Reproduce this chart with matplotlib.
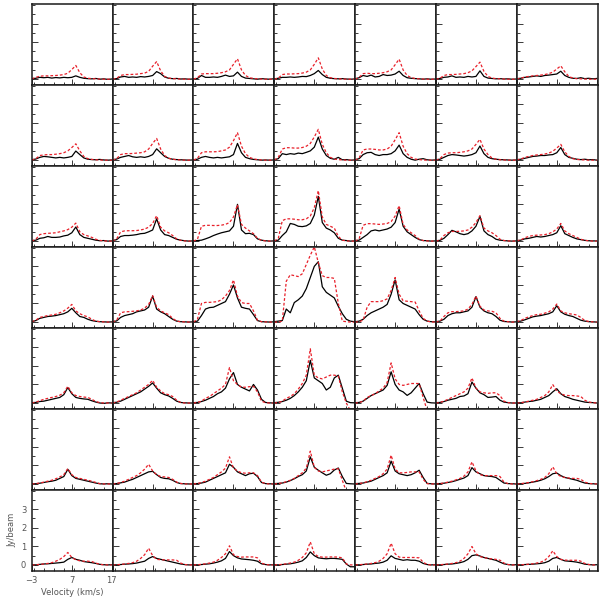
import matplotlib
matplotlib.use("Agg")
import matplotlib.pyplot as plt
from matplotlib.ticker import MultipleLocator

# velocity channels (km/s)
velocity = list(range(-3, 18))

# model spectra (red dashed), one list of 7 panels per row, top row first
model_row1 = [
    [0.02, 0.1, 0.16, 0.18, 0.18, 0.19, 0.2, 0.22, 0.25, 0.32, 0.52, 0.74, 0.35, 0.12, 0.05, 0.03, 0.02, 0.01, 0.0, 0.0, 0.0],
    [0.0, 0.05, 0.2, 0.25, 0.25, 0.26, 0.27, 0.3, 0.33, 0.42, 0.7, 0.95, 0.45, 0.15, 0.06, 0.03, 0.02, 0.01, 0.0, 0.0, 0.0],
    [0.0, 0.08, 0.28, 0.3, 0.3, 0.3, 0.32, 0.35, 0.4, 0.5, 0.8, 1.1, 0.5, 0.2, 0.08, 0.04, 0.02, 0.01, 0.0, 0.0, 0.0],
    [0.0, 0.06, 0.25, 0.28, 0.28, 0.29, 0.3, 0.33, 0.38, 0.5, 0.8, 1.15, 0.55, 0.2, 0.08, 0.04, 0.02, 0.01, 0.0, 0.0, 0.0],
    [0.0, 0.1, 0.3, 0.32, 0.3, 0.3, 0.32, 0.35, 0.4, 0.5, 0.78, 1.08, 0.5, 0.2, 0.08, 0.04, 0.02, 0.01, 0.0, 0.0, 0.0],
    [0.0, 0.05, 0.2, 0.25, 0.25, 0.26, 0.28, 0.3, 0.35, 0.45, 0.68, 0.92, 0.42, 0.15, 0.06, 0.03, 0.02, 0.01, 0.0, 0.0, 0.0],
    [0.02, 0.05, 0.12, 0.15, 0.18, 0.2, 0.22, 0.25, 0.3, 0.38, 0.55, 0.72, 0.4, 0.15, 0.06, 0.03, 0.02, 0.01, 0.0, 0.0, 0.0],
]
model_row2 = [
    [0.0, 0.08, 0.25, 0.28, 0.3, 0.3, 0.32, 0.35, 0.4, 0.5, 0.68, 0.88, 0.5, 0.2, 0.08, 0.04, 0.02, 0.01, 0.0, 0.0, 0.0],
    [0.0, 0.08, 0.3, 0.35, 0.35, 0.36, 0.38, 0.4, 0.45, 0.6, 0.9, 1.17, 0.6, 0.25, 0.1, 0.05, 0.02, 0.01, 0.0, 0.0, 0.0],
    [0.0, 0.1, 0.4, 0.45, 0.45, 0.45, 0.46, 0.5, 0.55, 0.7, 1.05, 1.48, 0.75, 0.35, 0.15, 0.07, 0.03, 0.01, 0.0, 0.0, 0.0],
    [0.0, 0.15, 0.6, 0.67, 0.67, 0.65, 0.65, 0.68, 0.75, 0.9, 1.25, 1.66, 0.85, 0.4, 0.15, 0.06, 0.03, 0.01, 0.0, 0.0, 0.0],
    [0.0, 0.12, 0.55, 0.6, 0.6, 0.58, 0.55, 0.55, 0.6, 0.75, 1.1, 1.48, 0.75, 0.35, 0.15, 0.06, 0.03, 0.01, 0.0, 0.0, 0.0],
    [0.0, 0.08, 0.3, 0.38, 0.4, 0.4, 0.42, 0.45, 0.5, 0.6, 0.85, 1.12, 0.6, 0.3, 0.12, 0.05, 0.02, 0.01, 0.0, 0.0, 0.0],
    [0.02, 0.06, 0.15, 0.2, 0.25, 0.28, 0.3, 0.33, 0.38, 0.48, 0.65, 0.85, 0.45, 0.2, 0.08, 0.04, 0.02, 0.01, 0.0, 0.0, 0.0],
]
model_row3 = [
    [0.0, 0.1, 0.35, 0.4, 0.42, 0.43, 0.45, 0.5, 0.55, 0.62, 0.75, 0.97, 0.5, 0.35, 0.28, 0.2, 0.1, 0.04, 0.01, 0.0, 0.0],
    [0.0, 0.12, 0.5, 0.55, 0.56, 0.56, 0.57, 0.6, 0.65, 0.75, 0.95, 1.37, 0.75, 0.55, 0.45, 0.3, 0.12, 0.04, 0.01, 0.0, 0.0],
    [0.0, 0.1, 0.8, 0.85, 0.85, 0.84, 0.84, 0.86, 0.9, 1.0, 1.3, 1.96, 0.9, 0.7, 0.55, 0.4, 0.15, 0.04, 0.01, 0.0, 0.0],
    [0.0, 0.15, 1.1, 1.2, 1.2, 1.18, 1.15, 1.15, 1.2, 1.35, 1.8, 2.72, 1.3, 0.9, 0.8, 0.7, 0.25, 0.05, 0.01, 0.0, 0.0],
    [0.0, 0.12, 0.85, 0.94, 0.94, 0.92, 0.9, 0.92, 0.95, 1.05, 1.35, 1.91, 0.9, 0.6, 0.45, 0.3, 0.1, 0.03, 0.01, 0.0, 0.0],
    [0.0, 0.05, 0.3, 0.45, 0.52, 0.52, 0.53, 0.55, 0.6, 0.75, 1.0, 1.37, 0.7, 0.55, 0.45, 0.3, 0.1, 0.03, 0.01, 0.0, 0.0],
    [0.02, 0.06, 0.18, 0.25, 0.3, 0.32, 0.33, 0.35, 0.4, 0.5, 0.65, 0.95, 0.55, 0.4, 0.3, 0.2, 0.1, 0.04, 0.02, 0.0, 0.0],
]
model_row4 = [
    [0.02, 0.1, 0.25, 0.3, 0.35, 0.38, 0.42, 0.5, 0.6, 0.75, 0.95, 0.6, 0.45, 0.35, 0.28, 0.15, 0.05, 0.02, 0.01, 0.0, 0.0],
    [0.0, 0.1, 0.5, 0.55, 0.56, 0.58, 0.6, 0.65, 0.75, 0.95, 1.42, 0.8, 0.6, 0.5, 0.4, 0.2, 0.05, 0.02, 0.01, 0.0, 0.0],
    [0.0, 0.15, 1.0, 1.06, 1.06, 1.08, 1.1, 1.2, 1.4, 1.7, 2.27, 1.4, 1.05, 1.0, 1.0, 0.6, 0.1, 0.02, 0.01, 0.0, 0.0],
    [0.0, 0.0, 0.05, 2.2, 2.55, 2.5, 2.45, 2.6, 3.1, 3.6, 4.05, 3.2, 2.5, 2.4, 2.4, 2.35, 1.0, 0.05, 0.02, 0.0, 0.0],
    [0.0, 0.02, 0.1, 0.8, 1.1, 1.1, 1.1, 1.15, 1.25, 1.7, 2.4, 1.5, 1.15, 1.12, 1.1, 1.08, 0.6, 0.2, 0.05, 0.01, 0.0],
    [0.0, 0.05, 0.3, 0.5, 0.56, 0.56, 0.58, 0.6, 0.7, 0.95, 1.4, 0.85, 0.65, 0.6, 0.58, 0.5, 0.2, 0.05, 0.02, 0.0, 0.0],
    [0.02, 0.08, 0.2, 0.28, 0.35, 0.4, 0.42, 0.48, 0.55, 0.7, 0.97, 0.6, 0.5, 0.45, 0.42, 0.38, 0.25, 0.08, 0.03, 0.01, 0.0],
]
model_row5 = [
    [0.0, 0.05, 0.12, 0.2, 0.25, 0.3, 0.35, 0.42, 0.55, 0.9, 0.55, 0.4, 0.35, 0.32, 0.3, 0.2, 0.08, 0.02, 0.0, 0.0, 0.0],
    [0.0, 0.05, 0.15, 0.25, 0.35, 0.45, 0.55, 0.7, 0.85, 1.0, 1.22, 0.85, 0.65, 0.5, 0.45, 0.35, 0.15, 0.03, 0.0, 0.0, 0.0],
    [0.0, 0.03, 0.1, 0.25, 0.35, 0.5, 0.65, 0.8, 1.0, 1.91, 1.2, 1.0, 0.85, 0.85, 0.88, 0.9, 0.6, 0.1, 0.02, 0.0, 0.0],
    [0.0, 0.02, 0.1, 0.25, 0.35, 0.5, 0.75, 1.05, 1.5, 2.92, 1.5, 1.35, 1.3, 1.4, 1.5, 1.5, 1.45, 0.6, 0.0, -0.4, -0.6],
    [0.0, 0.02, 0.1, 0.3, 0.4, 0.5, 0.65, 0.8, 1.1, 2.16, 1.3, 1.0, 0.95, 1.0, 1.05, 1.05, 1.05, 0.3, -0.4, -0.5, -0.5],
    [0.0, 0.03, 0.1, 0.2, 0.3, 0.4, 0.5, 0.6, 0.8, 1.35, 0.8, 0.6, 0.55, 0.52, 0.55, 0.55, 0.4, 0.1, 0.02, 0.0, 0.0],
    [0.0, 0.02, 0.05, 0.1, 0.15, 0.2, 0.3, 0.4, 0.6, 0.99, 0.65, 0.5, 0.42, 0.4, 0.4, 0.38, 0.35, 0.15, 0.05, 0.02, 0.0],
]
model_row6 = [
    [0.0, 0.02, 0.05, 0.1, 0.15, 0.2, 0.28, 0.38, 0.5, 0.83, 0.5, 0.35, 0.3, 0.25, 0.2, 0.15, 0.08, 0.02, 0.0, 0.0, 0.0],
    [0.0, 0.02, 0.08, 0.15, 0.25, 0.35, 0.45, 0.6, 0.8, 1.06, 0.7, 0.5, 0.4, 0.38, 0.35, 0.25, 0.1, 0.03, 0.0, 0.0, 0.0],
    [0.0, 0.02, 0.08, 0.15, 0.25, 0.35, 0.5, 0.65, 0.85, 1.46, 0.85, 0.7, 0.6, 0.58, 0.6, 0.6, 0.45, 0.1, 0.02, 0.0, 0.0],
    [0.0, 0.02, 0.06, 0.12, 0.2, 0.3, 0.45, 0.6, 0.85, 1.77, 0.9, 0.7, 0.65, 0.7, 0.75, 0.8, 0.82, 0.2, -0.4, -0.5, -0.5],
    [0.0, 0.02, 0.06, 0.12, 0.2, 0.3, 0.4, 0.55, 0.8, 1.55, 0.8, 0.6, 0.6, 0.62, 0.65, 0.65, 0.65, 0.25, 0.02, 0.0, 0.0],
    [0.0, 0.02, 0.05, 0.1, 0.15, 0.22, 0.3, 0.42, 0.65, 1.19, 0.7, 0.5, 0.45, 0.45, 0.45, 0.45, 0.4, 0.1, 0.02, 0.0, 0.0],
    [0.0, 0.02, 0.04, 0.08, 0.12, 0.18, 0.25, 0.35, 0.55, 0.92, 0.55, 0.4, 0.35, 0.32, 0.3, 0.3, 0.25, 0.1, 0.03, 0.01, 0.0],
]
model_row7 = [
    [0.0, 0.01, 0.03, 0.05, 0.08, 0.12, 0.2, 0.3, 0.45, 0.67, 0.4, 0.28, 0.22, 0.2, 0.2, 0.18, 0.1, 0.03, 0.01, 0.0, 0.0],
    [0.0, 0.01, 0.03, 0.05, 0.08, 0.12, 0.2, 0.35, 0.55, 0.9, 0.5, 0.3, 0.28, 0.27, 0.27, 0.27, 0.25, 0.1, 0.02, 0.0, 0.0],
    [0.0, 0.01, 0.03, 0.06, 0.1, 0.15, 0.25, 0.4, 0.6, 1.03, 0.55, 0.45, 0.42, 0.43, 0.43, 0.43, 0.38, 0.1, 0.02, 0.0, 0.0],
    [0.0, 0.01, 0.03, 0.06, 0.1, 0.15, 0.25, 0.4, 0.65, 1.24, 0.6, 0.45, 0.42, 0.42, 0.43, 0.43, 0.42, 0.38, 0.05, 0.0, 0.0],
    [0.0, 0.01, 0.03, 0.05, 0.08, 0.12, 0.2, 0.35, 0.6, 1.17, 0.6, 0.42, 0.4, 0.4, 0.4, 0.4, 0.38, 0.15, 0.02, 0.0, 0.0],
    [0.0, 0.01, 0.03, 0.05, 0.08, 0.12, 0.2, 0.35, 0.6, 0.99, 0.6, 0.45, 0.4, 0.35, 0.32, 0.3, 0.25, 0.1, 0.02, 0.0, 0.0],
    [0.0, 0.01, 0.02, 0.04, 0.06, 0.1, 0.15, 0.25, 0.45, 0.76, 0.45, 0.3, 0.26, 0.25, 0.25, 0.25, 0.2, 0.08, 0.02, 0.0, 0.0],
]

# observed spectra (black)
obs_row1 = [
    [0.02, 0.05, 0.1, 0.08, 0.1, 0.06, 0.09, 0.07, 0.1, 0.08, 0.1, 0.18, 0.1, 0.05, 0.03, 0.02, 0.04, 0.0, 0.02, -0.01, 0.01],
    [0.02, 0.03, 0.12, 0.15, 0.1, 0.12, 0.1, 0.14, 0.12, 0.15, 0.2, 0.41, 0.3, 0.12, 0.05, 0.03, 0.04, 0.01, 0.02, 0.0, 0.01],
    [0.02, 0.04, 0.2, 0.1, 0.1, 0.12, 0.1, 0.15, 0.22, 0.15, 0.18, 0.38, 0.15, 0.06, 0.04, 0.02, 0.0, 0.03, 0.01, 0.0, 0.02],
    [0.02, 0.05, 0.1, 0.1, 0.12, 0.1, 0.12, 0.15, 0.14, 0.2, 0.3, 0.47, 0.25, 0.1, 0.05, 0.03, 0.02, 0.03, 0.01, 0.0, 0.01],
    [0.02, 0.08, 0.2, 0.15, 0.22, 0.12, 0.15, 0.25, 0.2, 0.22, 0.28, 0.43, 0.2, 0.08, 0.05, 0.03, 0.02, 0.0, 0.02, 0.0, 0.01],
    [0.02, 0.04, 0.1, 0.12, 0.18, 0.1, 0.12, 0.1, 0.15, 0.12, 0.15, 0.45, 0.15, 0.06, 0.04, 0.02, 0.03, 0.01, 0.02, 0.0, 0.01],
    [0.03, 0.05, 0.1, 0.12, 0.15, 0.18, 0.15, 0.2, 0.22, 0.25, 0.28, 0.43, 0.2, 0.1, 0.05, 0.04, 0.08, 0.03, 0.05, 0.02, 0.04],
]
obs_row2 = [
    [0.02, 0.06, 0.15, 0.2, 0.18, 0.15, 0.12, 0.15, 0.12, 0.15, 0.2, 0.49, 0.3, 0.12, 0.05, 0.03, 0.02, 0.04, 0.01, 0.0, 0.01],
    [0.02, 0.06, 0.15, 0.2, 0.25, 0.18, 0.15, 0.18, 0.15, 0.2, 0.3, 0.61, 0.4, 0.2, 0.1, 0.05, 0.03, 0.02, 0.01, 0.0, 0.01],
    [0.02, 0.05, 0.15, 0.2, 0.15, 0.12, 0.15, 0.12, 0.15, 0.18, 0.3, 0.9, 0.4, 0.15, 0.08, 0.04, 0.02, 0.0, 0.01, 0.0, 0.01],
    [0.02, 0.08, 0.35, 0.3, 0.35, 0.32, 0.38, 0.35, 0.42, 0.5, 0.7, 1.24, 0.6, 0.25, 0.1, 0.05, 0.15, 0.02, 0.03, 0.0, 0.01],
    [0.02, 0.08, 0.3, 0.4, 0.42, 0.3, 0.25, 0.3, 0.3, 0.35, 0.5, 0.81, 0.35, 0.15, 0.05, 0.0, 0.05, 0.08, 0.02, 0.0, 0.01],
    [0.02, 0.05, 0.15, 0.25, 0.3, 0.28, 0.25, 0.22, 0.25, 0.3, 0.4, 0.76, 0.35, 0.15, 0.08, 0.05, 0.03, 0.02, 0.01, 0.0, 0.01],
    [0.02, 0.05, 0.1, 0.15, 0.2, 0.22, 0.25, 0.25, 0.28, 0.3, 0.4, 0.68, 0.3, 0.15, 0.1, 0.05, 0.03, 0.05, 0.02, 0.03, 0.0],
]
obs_row3 = [
    [0.02, 0.05, 0.15, 0.18, 0.25, 0.2, 0.2, 0.22, 0.28, 0.32, 0.45, 0.76, 0.35, 0.2, 0.15, 0.1, 0.05, 0.02, 0.03, 0.0, 0.01],
    [0.02, 0.08, 0.25, 0.3, 0.3, 0.32, 0.35, 0.4, 0.42, 0.5, 0.6, 1.2, 0.6, 0.35, 0.3, 0.2, 0.1, 0.05, 0.02, 0.0, 0.01],
    [0.02, 0.03, 0.05, 0.12, 0.2, 0.3, 0.38, 0.45, 0.5, 0.55, 0.8, 1.98, 0.6, 0.4, 0.42, 0.35, 0.12, 0.05, 0.02, 0.0, 0.01],
    [0.02, 0.05, 0.3, 0.5, 0.95, 0.9, 0.8, 0.78, 0.82, 0.95, 1.4, 2.41, 1.0, 0.7, 0.6, 0.45, 0.15, 0.05, 0.03, 0.0, 0.01],
    [0.02, 0.05, 0.2, 0.35, 0.55, 0.6, 0.55, 0.6, 0.65, 0.75, 1.0, 1.73, 0.8, 0.5, 0.35, 0.2, 0.08, 0.03, 0.02, 0.0, 0.01],
    [0.02, 0.04, 0.15, 0.35, 0.58, 0.5, 0.4, 0.35, 0.4, 0.55, 0.8, 1.33, 0.55, 0.35, 0.25, 0.1, 0.05, 0.03, 0.01, 0.0, 0.01],
    [0.02, 0.05, 0.12, 0.15, 0.2, 0.25, 0.22, 0.25, 0.3, 0.35, 0.45, 0.83, 0.4, 0.3, 0.2, 0.12, 0.08, 0.04, 0.02, 0.01, 0.01],
]
obs_row4 = [
    [0.02, 0.08, 0.2, 0.25, 0.3, 0.32, 0.35, 0.4, 0.45, 0.55, 0.74, 0.5, 0.3, 0.25, 0.15, 0.08, 0.04, 0.02, 0.01, 0.0, 0.01],
    [0.02, 0.06, 0.25, 0.35, 0.4, 0.45, 0.55, 0.6, 0.65, 0.8, 1.4, 0.7, 0.55, 0.45, 0.3, 0.15, 0.05, 0.02, 0.01, 0.0, 0.01],
    [0.02, 0.05, 0.35, 0.7, 0.78, 0.8, 0.9, 1.0, 1.1, 1.5, 2.0, 1.3, 0.8, 0.74, 0.7, 0.4, 0.08, 0.02, 0.01, 0.0, 0.01],
    [0.02, 0.05, 0.08, 0.7, 0.5, 1.05, 1.2, 1.4, 1.8, 2.4, 3.0, 3.25, 1.9, 1.6, 1.45, 1.3, 0.85, 0.45, 0.15, 0.05, 0.02],
    [0.02, 0.05, 0.15, 0.35, 0.5, 0.6, 0.7, 0.8, 0.95, 1.5, 2.27, 1.2, 1.0, 0.9, 0.8, 0.7, 0.4, 0.15, 0.05, 0.02, 0.01],
    [0.02, 0.05, 0.15, 0.35, 0.45, 0.5, 0.5, 0.55, 0.6, 0.8, 1.37, 0.8, 0.6, 0.5, 0.45, 0.3, 0.1, 0.03, 0.02, 0.0, 0.01],
    [0.02, 0.05, 0.12, 0.2, 0.28, 0.32, 0.35, 0.4, 0.45, 0.55, 0.88, 0.55, 0.42, 0.35, 0.3, 0.2, 0.1, 0.05, 0.02, 0.01, 0.0],
]
obs_row5 = [
    [0.02, 0.03, 0.08, 0.1, 0.15, 0.2, 0.25, 0.3, 0.45, 0.83, 0.5, 0.3, 0.25, 0.22, 0.2, 0.12, 0.05, 0.0, -0.02, 0.01, 0.0],
    [0.02, 0.04, 0.1, 0.2, 0.3, 0.4, 0.5, 0.6, 0.75, 0.9, 1.08, 0.8, 0.55, 0.45, 0.38, 0.25, 0.1, 0.03, 0.01, 0.0, 0.0],
    [0.02, 0.03, 0.08, 0.15, 0.25, 0.35, 0.5, 0.6, 0.8, 1.3, 1.64, 1.0, 0.85, 0.75, 0.65, 1.0, 0.7, 0.2, 0.03, 0.01, 0.0],
    [0.02, 0.04, 0.08, 0.15, 0.25, 0.4, 0.6, 0.85, 1.2, 2.3, 1.35, 1.2, 1.05, 0.7, 0.85, 1.35, 1.5, 0.8, 0.1, 0.02, 0.01],
    [0.02, 0.03, 0.1, 0.25, 0.4, 0.5, 0.6, 0.7, 0.95, 1.68, 1.0, 0.7, 0.6, 0.41, 0.55, 0.8, 1.05, 0.5, 0.05, 0.01, 0.0],
    [0.02, 0.03, 0.08, 0.15, 0.2, 0.25, 0.35, 0.38, 0.5, 1.13, 0.8, 0.55, 0.45, 0.3, 0.32, 0.35, 0.15, 0.05, 0.02, 0.0, 0.0],
    [0.02, 0.01, 0.05, 0.08, 0.1, 0.15, 0.2, 0.3, 0.4, 0.6, 0.77, 0.5, 0.35, 0.28, 0.2, 0.15, 0.1, 0.05, 0.03, 0.02, 0.0],
]
obs_row6 = [
    [0.02, 0.01, 0.04, 0.08, 0.12, 0.15, 0.2, 0.3, 0.4, 0.79, 0.45, 0.3, 0.25, 0.2, 0.15, 0.1, 0.05, 0.01, 0.0, 0.01, 0.0],
    [0.02, 0.02, 0.06, 0.1, 0.18, 0.25, 0.35, 0.45, 0.55, 0.65, 0.68, 0.5, 0.35, 0.3, 0.28, 0.2, 0.08, 0.02, 0.01, 0.0, 0.0],
    [0.02, 0.02, 0.05, 0.1, 0.2, 0.3, 0.4, 0.5, 0.6, 1.06, 0.9, 0.65, 0.55, 0.45, 0.55, 0.58, 0.4, 0.08, 0.02, 0.01, 0.0],
    [0.02, 0.03, 0.05, 0.1, 0.18, 0.28, 0.4, 0.5, 0.7, 1.46, 0.9, 0.74, 0.6, 0.47, 0.55, 0.75, 0.86, 0.4, 0.03, 0.01, 0.0],
    [0.02, 0.03, 0.05, 0.1, 0.15, 0.25, 0.35, 0.45, 0.6, 1.23, 0.7, 0.55, 0.5, 0.45, 0.5, 0.6, 0.74, 0.35, 0.03, 0.01, 0.0],
    [0.02, 0.02, 0.04, 0.08, 0.12, 0.18, 0.25, 0.32, 0.45, 0.88, 0.65, 0.55, 0.45, 0.42, 0.4, 0.35, 0.2, 0.05, 0.02, 0.01, 0.0],
    [0.02, 0.01, 0.03, 0.06, 0.1, 0.14, 0.2, 0.28, 0.4, 0.55, 0.59, 0.45, 0.35, 0.3, 0.25, 0.2, 0.12, 0.05, 0.02, 0.01, 0.0],
]
obs_row7 = [
    [0.02, 0.0, 0.03, 0.05, 0.06, 0.08, 0.1, 0.12, 0.15, 0.3, 0.4, 0.3, 0.25, 0.18, 0.15, 0.12, 0.08, 0.03, 0.01, 0.0, 0.01],
    [0.02, 0.0, 0.02, 0.04, 0.05, 0.07, 0.1, 0.15, 0.2, 0.35, 0.45, 0.35, 0.3, 0.25, 0.2, 0.15, 0.1, 0.05, 0.02, 0.0, 0.01],
    [0.02, 0.0, 0.02, 0.04, 0.06, 0.1, 0.15, 0.22, 0.35, 0.72, 0.5, 0.38, 0.32, 0.3, 0.28, 0.25, 0.2, 0.06, 0.02, 0.0, 0.01],
    [0.02, 0.0, 0.02, 0.04, 0.06, 0.1, 0.15, 0.22, 0.4, 0.7, 0.5, 0.38, 0.35, 0.33, 0.35, 0.35, 0.33, 0.3, 0.05, -0.1, -0.1],
    [0.02, 0.0, 0.02, 0.04, 0.05, 0.08, 0.1, 0.15, 0.25, 0.49, 0.35, 0.3, 0.25, 0.28, 0.25, 0.25, 0.2, 0.08, 0.02, 0.0, 0.01],
    [0.02, 0.0, 0.02, 0.04, 0.05, 0.08, 0.12, 0.18, 0.3, 0.5, 0.54, 0.48, 0.4, 0.35, 0.3, 0.25, 0.15, 0.06, 0.02, 0.0, 0.01],
    [0.02, 0.0, 0.02, 0.03, 0.04, 0.06, 0.08, 0.12, 0.2, 0.35, 0.4, 0.3, 0.22, 0.2, 0.18, 0.15, 0.1, 0.04, 0.02, 0.0, 0.01],
]

model_rows = [model_row1, model_row2, model_row3, model_row4, model_row5, model_row6, model_row7]
obs_rows = [obs_row1, obs_row2, obs_row3, obs_row4, obs_row5, obs_row6, obs_row7]

text_color = "#555555"
frame_color = "#1a1a1a"

fig, axes = plt.subplots(7, 7, sharex=True, sharey=True, figsize=(6.0, 5.98), dpi=100)
fig.subplots_adjust(left=0.053, right=0.996, top=0.9933, bottom=0.0457, wspace=0, hspace=0)

for r in range(7):
    for c in range(7):
        ax = axes[r, c]
        ax.plot(velocity, obs_rows[r][c], color="black", lw=0.9)
        ax.plot(velocity, model_rows[r][c], color="#e8202a", lw=0.9, linestyle=(0, (2.2, 1.6)))
        for s in ax.spines.values():
            s.set_color(frame_color)
            s.set_linewidth(1.1)

ax0 = axes[0, 0]
ax0.set_xlim(-3, 17.2)
ax0.set_ylim(-0.31, 4.05)
ax0.xaxis.set_major_locator(MultipleLocator(10))
ax0.xaxis.set_minor_locator(MultipleLocator(2.5))
ax0.yaxis.set_major_locator(MultipleLocator(1))
ax0.yaxis.set_minor_locator(MultipleLocator(0.5))

for ax in axes.flat:
    ax.tick_params(which="both", direction="in", colors=frame_color,
                   labelcolor=text_color, labelsize=6, width=0.6,
                   labelbottom=False, labelleft=False)
    ax.tick_params(which="major", length=4)
    ax.tick_params(which="minor", length=2)

corner = axes[6, 0]
corner.tick_params(labelbottom=True, labelleft=True, pad=4)
corner.set_xticks([-3, 7, 17])
corner.set_xticklabels(["\u22123", "7", "17"])
corner.set_yticks([0, 1, 2, 3])
corner.set_xlabel("Velocity (km/s)", fontsize=6, color=text_color, labelpad=2)
corner.set_ylabel("Jy/beam", fontsize=6, color=text_color, labelpad=3)

fig.savefig("out.png", dpi=100)
